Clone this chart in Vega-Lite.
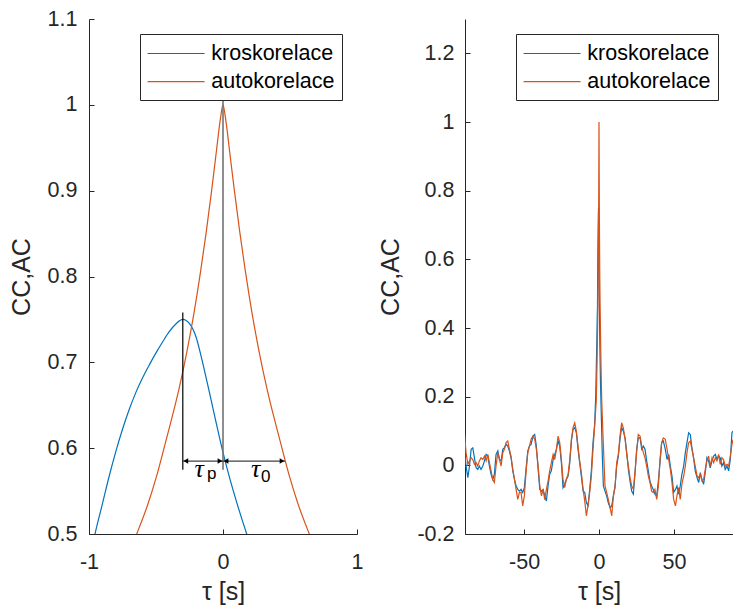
{
  "$schema": "https://vega.github.io/schema/vega-lite/v6.json",
  "autosize": {"type": "none"},
  "padding": {"left": 89, "top": 19, "right": 644, "bottom": 593},
  "background": "white",
  "spacing": 108,
  "bounds": "flush",
  "datasets": {
    "kros": [
      {"t": -89.8, "v": 0.047}, {"t": -88.7, "v": -0.002}, {"t": -87.5, "v": -0.036}, {"t": -86.4, "v": -0.002}, {"t": -85.3, "v": 0.047},
      {"t": -84.2, "v": 0.051}, {"t": -83.1, "v": 0.022}, {"t": -82.0, "v": -0.007}, {"t": -80.9, "v": -0.012}, {"t": -79.8, "v": -0.002},
      {"t": -78.7, "v": -0.012}, {"t": -77.5, "v": -0.002}, {"t": -76.4, "v": 0.013}, {"t": -75.3, "v": 0.032}, {"t": -74.2, "v": 0.027},
      {"t": -73.1, "v": -0.002}, {"t": -72.0, "v": -0.026}, {"t": -70.9, "v": -0.041}, {"t": -69.8, "v": -0.026}, {"t": -68.7, "v": 0.032},
      {"t": -67.5, "v": 0.042}, {"t": -66.4, "v": 0.017}, {"t": -65.3, "v": 0.013}, {"t": -64.2, "v": 0.047}, {"t": -63.1, "v": 0.051},
      {"t": -62.0, "v": 0.061}, {"t": -60.9, "v": 0.056}, {"t": -59.8, "v": 0.042}, {"t": -58.7, "v": 0.022}, {"t": -57.5, "v": -0.016},
      {"t": -56.4, "v": -0.041}, {"t": -55.3, "v": -0.06}, {"t": -54.2, "v": -0.07}, {"t": -53.1, "v": -0.075}, {"t": -52.0, "v": -0.07},
      {"t": -50.9, "v": -0.079}, {"t": -49.8, "v": -0.065}, {"t": -48.7, "v": -0.012}, {"t": -47.5, "v": 0.042}, {"t": -46.4, "v": 0.056},
      {"t": -45.3, "v": 0.061}, {"t": -44.0, "v": 0.085}, {"t": -42.9, "v": 0.09}, {"t": -41.8, "v": 0.056}, {"t": -40.6, "v": -0.012},
      {"t": -39.5, "v": -0.07}, {"t": -38.4, "v": -0.075}, {"t": -37.3, "v": -0.07}, {"t": -36.2, "v": -0.089}, {"t": -35.1, "v": -0.104},
      {"t": -34.0, "v": -0.06}, {"t": -32.9, "v": -0.026}, {"t": -31.8, "v": -0.016}, {"t": -30.6, "v": 0.017}, {"t": -29.5, "v": 0.032},
      {"t": -28.4, "v": 0.047}, {"t": -27.3, "v": 0.071}, {"t": -26.2, "v": 0.056}, {"t": -25.1, "v": 0.008}, {"t": -24.0, "v": -0.065},
      {"t": -22.9, "v": -0.055}, {"t": -21.8, "v": -0.041}, {"t": -20.6, "v": -0.031}, {"t": -19.5, "v": 0.008}, {"t": -18.4, "v": 0.071},
      {"t": -17.3, "v": 0.105}, {"t": -16.2, "v": 0.11}, {"t": -15.1, "v": 0.095}, {"t": -14.0, "v": 0.047}, {"t": -12.9, "v": 0.008},
      {"t": -11.8, "v": -0.031}, {"t": -10.6, "v": -0.075}, {"t": -9.5, "v": -0.079}, {"t": -8.4, "v": -0.109}, {"t": -7.3, "v": -0.118},
      {"t": -6.2, "v": -0.07}, {"t": -5.1, "v": -0.016}, {"t": -4.0, "v": 0.066}, {"t": -2.9, "v": 0.12}, {"t": -2.2, "v": 0.2},
      {"t": -1.5, "v": 0.35}, {"t": -1.2, "v": 0.425}, {"t": -1.0, "v": 0.465}, {"t": -0.955, "v": 0.5}, {"t": -0.9, "v": 0.535},
      {"t": -0.85, "v": 0.567}, {"t": -0.8, "v": 0.596}, {"t": -0.75, "v": 0.622}, {"t": -0.7, "v": 0.645}, {"t": -0.65, "v": 0.665},
      {"t": -0.6, "v": 0.682}, {"t": -0.55, "v": 0.697}, {"t": -0.5, "v": 0.711}, {"t": -0.45, "v": 0.724}, {"t": -0.4, "v": 0.736},
      {"t": -0.35, "v": 0.745}, {"t": -0.3, "v": 0.75}, {"t": -0.25, "v": 0.745}, {"t": -0.2, "v": 0.729}, {"t": -0.16, "v": 0.705},
      {"t": -0.1, "v": 0.664}, {"t": -0.05, "v": 0.629}, {"t": 0, "v": 0.595}, {"t": 0.05, "v": 0.565}, {"t": 0.1, "v": 0.538},
      {"t": 0.15, "v": 0.513}, {"t": 0.177, "v": 0.5}, {"t": 0.25, "v": 0.468},
      {"t": 0.6, "v": 0.34}, {"t": 1.0, "v": 0.24}, {"t": 1.6, "v": 0.134},
      {"t": 2.2, "v": 0.03}, {"t": 2.9, "v": -0.06}, {"t": 4.0, "v": -0.075}, {"t": 5.1, "v": -0.089}, {"t": 6.2, "v": -0.109},
      {"t": 7.4, "v": -0.123}, {"t": 8.5, "v": -0.118}, {"t": 9.6, "v": -0.089}, {"t": 10.7, "v": -0.06}, {"t": 11.8, "v": -0.002},
      {"t": 12.9, "v": 0.027}, {"t": 14.0, "v": 0.076}, {"t": 15.1, "v": 0.11}, {"t": 16.2, "v": 0.1}, {"t": 17.4, "v": 0.08},
      {"t": 18.5, "v": 0.037}, {"t": 19.6, "v": -0.012}, {"t": 20.7, "v": -0.046}, {"t": 21.8, "v": -0.075}, {"t": 22.9, "v": -0.084},
      {"t": 24.0, "v": -0.026}, {"t": 25.1, "v": 0.047}, {"t": 26.2, "v": 0.08}, {"t": 27.4, "v": 0.08}, {"t": 28.5, "v": 0.047},
      {"t": 29.6, "v": 0.056}, {"t": 30.7, "v": 0.047}, {"t": 31.8, "v": 0.013}, {"t": 32.9, "v": -0.016}, {"t": 34.0, "v": -0.046},
      {"t": 35.1, "v": -0.06}, {"t": 36.2, "v": -0.07}, {"t": 37.3, "v": -0.084}, {"t": 38.5, "v": -0.089}, {"t": 39.6, "v": -0.046},
      {"t": 40.7, "v": 0.008}, {"t": 41.8, "v": 0.066}, {"t": 42.9, "v": 0.071}, {"t": 44.2, "v": 0.047}, {"t": 45.4, "v": 0.017},
      {"t": 46.5, "v": 0.032}, {"t": 47.6, "v": -0.002}, {"t": 48.7, "v": -0.031}, {"t": 49.8, "v": -0.079}, {"t": 51.0, "v": -0.07},
      {"t": 52.0, "v": -0.06}, {"t": 53.1, "v": -0.084}, {"t": 54.2, "v": -0.06}, {"t": 55.3, "v": -0.026}, {"t": 56.5, "v": -0.002},
      {"t": 57.6, "v": 0.037}, {"t": 58.7, "v": 0.066}, {"t": 59.8, "v": 0.095}, {"t": 60.9, "v": 0.09}, {"t": 62.0, "v": 0.051},
      {"t": 63.1, "v": 0.022}, {"t": 64.2, "v": -0.016}, {"t": 65.4, "v": -0.036}, {"t": 66.5, "v": -0.05}, {"t": 67.6, "v": -0.021},
      {"t": 68.7, "v": -0.041}, {"t": 69.8, "v": -0.055}, {"t": 70.9, "v": -0.021}, {"t": 72.0, "v": 0.022}, {"t": 73.1, "v": 0.013},
      {"t": 74.2, "v": -0.007}, {"t": 75.4, "v": 0.013}, {"t": 76.5, "v": 0.027}, {"t": 77.6, "v": 0.032}, {"t": 78.7, "v": 0.017},
      {"t": 79.8, "v": 0.027}, {"t": 80.9, "v": 0.022}, {"t": 82.0, "v": -0.002}, {"t": 83.1, "v": 0.008}, {"t": 84.2, "v": -0.012},
      {"t": 85.4, "v": -0.002}, {"t": 86.5, "v": -0.016}, {"t": 87.6, "v": 0.017}, {"t": 88.7, "v": 0.095}, {"t": 89.4, "v": 0.1}
    ],
    "auto": [
      {"t": -89.8, "v": 0.095}, {"t": -88.7, "v": 0.037}, {"t": -87.5, "v": 0.003}, {"t": -86.4, "v": 0.013}, {"t": -85.3, "v": 0.022},
      {"t": -84.2, "v": 0.017}, {"t": -83.1, "v": 0.003}, {"t": -82.0, "v": 0.008}, {"t": -80.9, "v": -0.002}, {"t": -79.8, "v": 0.013},
      {"t": -78.7, "v": 0.022}, {"t": -77.5, "v": 0.017}, {"t": -76.4, "v": 0.027}, {"t": -75.3, "v": 0.013}, {"t": -74.2, "v": 0.032},
      {"t": -73.1, "v": 0.008}, {"t": -72.0, "v": -0.016}, {"t": -70.9, "v": -0.041}, {"t": -69.8, "v": -0.05}, {"t": -68.7, "v": -0.002},
      {"t": -67.5, "v": 0.037}, {"t": -66.4, "v": 0.017}, {"t": -65.3, "v": -0.002}, {"t": -64.2, "v": 0.037}, {"t": -63.1, "v": 0.047},
      {"t": -62.0, "v": 0.066}, {"t": -60.9, "v": 0.071}, {"t": -59.8, "v": 0.047}, {"t": -58.7, "v": 0.027}, {"t": -57.5, "v": -0.012},
      {"t": -56.4, "v": -0.041}, {"t": -55.3, "v": -0.07}, {"t": -54.2, "v": -0.099}, {"t": -53.1, "v": -0.079}, {"t": -52.0, "v": -0.079},
      {"t": -50.9, "v": -0.118}, {"t": -49.8, "v": -0.089}, {"t": -48.7, "v": -0.021}, {"t": -47.5, "v": 0.037}, {"t": -46.4, "v": 0.056},
      {"t": -45.3, "v": 0.076}, {"t": -44.2, "v": 0.085}, {"t": -42.9, "v": 0.076}, {"t": -41.8, "v": 0.047}, {"t": -40.6, "v": -0.002},
      {"t": -39.5, "v": -0.06}, {"t": -38.4, "v": -0.089}, {"t": -37.3, "v": -0.07}, {"t": -36.2, "v": -0.1}, {"t": -35.1, "v": -0.07},
      {"t": -34.0, "v": -0.046}, {"t": -32.9, "v": -0.016}, {"t": -31.8, "v": 0.008}, {"t": -30.6, "v": 0.032}, {"t": -29.5, "v": 0.017},
      {"t": -28.4, "v": 0.047}, {"t": -27.3, "v": 0.085}, {"t": -26.2, "v": 0.066}, {"t": -25.1, "v": 0.017}, {"t": -24.0, "v": -0.041},
      {"t": -22.9, "v": -0.065}, {"t": -21.8, "v": -0.041}, {"t": -20.6, "v": -0.026}, {"t": -19.5, "v": 0.017}, {"t": -18.4, "v": 0.076},
      {"t": -17.3, "v": 0.11}, {"t": -16.2, "v": 0.124}, {"t": -15.1, "v": 0.1}, {"t": -14.0, "v": 0.056}, {"t": -12.9, "v": 0.013},
      {"t": -11.8, "v": -0.021}, {"t": -10.6, "v": -0.07}, {"t": -9.5, "v": -0.105}, {"t": -8.4, "v": -0.147}, {"t": -7.3, "v": -0.115},
      {"t": -6.2, "v": -0.079}, {"t": -5.1, "v": -0.031}, {"t": -4.0, "v": 0.047}, {"t": -2.9, "v": 0.114}, {"t": -1.8, "v": 0.19},
      {"t": -1.3, "v": 0.3}, {"t": -1.0, "v": 0.385}, {"t": -0.7, "v": 0.478}, {"t": -0.644, "v": 0.5}, {"t": -0.56, "v": 0.535},
      {"t": -0.5, "v": 0.565}, {"t": -0.44, "v": 0.6}, {"t": -0.39, "v": 0.63}, {"t": -0.33, "v": 0.668}, {"t": -0.27, "v": 0.712},
      {"t": -0.217, "v": 0.757}, {"t": -0.168, "v": 0.805}, {"t": -0.125, "v": 0.852}, {"t": -0.085, "v": 0.9}, {"t": -0.05, "v": 0.945},
      {"t": -0.02, "v": 0.983}, {"t": 0, "v": 1.0}, {"t": 0.02, "v": 0.983}, {"t": 0.05, "v": 0.945}, {"t": 0.085, "v": 0.9},
      {"t": 0.125, "v": 0.852}, {"t": 0.168, "v": 0.805}, {"t": 0.217, "v": 0.757}, {"t": 0.27, "v": 0.712}, {"t": 0.33, "v": 0.668},
      {"t": 0.39, "v": 0.63}, {"t": 0.44, "v": 0.6}, {"t": 0.5, "v": 0.565}, {"t": 0.56, "v": 0.535}, {"t": 0.644, "v": 0.5},
      {"t": 0.7, "v": 0.478}, {"t": 1.0, "v": 0.385}, {"t": 1.3, "v": 0.3}, {"t": 1.8, "v": 0.19},
      {"t": 2.9, "v": 0.06}, {"t": 4.0, "v": -0.06}, {"t": 5.1, "v": -0.079}, {"t": 6.2, "v": -0.099}, {"t": 7.4, "v": -0.123},
      {"t": 8.5, "v": -0.147}, {"t": 9.6, "v": -0.089}, {"t": 10.7, "v": -0.065}, {"t": 11.8, "v": 0.008}, {"t": 12.9, "v": 0.032},
      {"t": 14.0, "v": 0.085}, {"t": 15.1, "v": 0.124}, {"t": 16.2, "v": 0.11}, {"t": 17.4, "v": 0.076}, {"t": 18.5, "v": 0.032},
      {"t": 19.6, "v": -0.002}, {"t": 20.7, "v": -0.036}, {"t": 21.8, "v": -0.06}, {"t": 22.9, "v": -0.07}, {"t": 24.0, "v": -0.021},
      {"t": 25.1, "v": 0.037}, {"t": 26.2, "v": 0.09}, {"t": 27.4, "v": 0.085}, {"t": 28.5, "v": 0.056}, {"t": 29.6, "v": 0.037},
      {"t": 30.7, "v": 0.022}, {"t": 31.8, "v": -0.002}, {"t": 32.9, "v": -0.031}, {"t": 34.0, "v": -0.05}, {"t": 35.1, "v": -0.075},
      {"t": 36.2, "v": -0.079}, {"t": 37.3, "v": -0.07}, {"t": 38.5, "v": -0.099}, {"t": 39.6, "v": -0.06}, {"t": 40.7, "v": 0.017},
      {"t": 41.8, "v": 0.066}, {"t": 42.9, "v": 0.08}, {"t": 44.2, "v": 0.076}, {"t": 45.4, "v": 0.047}, {"t": 46.5, "v": 0.017},
      {"t": 47.6, "v": -0.012}, {"t": 48.7, "v": -0.05}, {"t": 49.8, "v": -0.099}, {"t": 51.0, "v": -0.118}, {"t": 52.0, "v": -0.089},
      {"t": 53.1, "v": -0.065}, {"t": 54.2, "v": -0.099}, {"t": 55.3, "v": -0.055}, {"t": 56.5, "v": -0.031}, {"t": 57.6, "v": -0.002},
      {"t": 58.7, "v": 0.037}, {"t": 59.8, "v": 0.066}, {"t": 60.9, "v": 0.071}, {"t": 62.0, "v": 0.047}, {"t": 63.1, "v": 0.022},
      {"t": 64.2, "v": -0.002}, {"t": 65.4, "v": -0.031}, {"t": 66.5, "v": -0.036}, {"t": 67.6, "v": -0.026}, {"t": 68.7, "v": -0.046},
      {"t": 69.8, "v": -0.041}, {"t": 70.9, "v": -0.012}, {"t": 72.0, "v": 0.013}, {"t": 73.1, "v": 0.027}, {"t": 74.2, "v": -0.002},
      {"t": 75.4, "v": 0.022}, {"t": 76.5, "v": 0.008}, {"t": 77.6, "v": 0.022}, {"t": 78.7, "v": 0.013}, {"t": 79.8, "v": 0.032},
      {"t": 80.9, "v": 0.003}, {"t": 82.0, "v": 0.022}, {"t": 83.1, "v": 0.017}, {"t": 84.2, "v": -0.002}, {"t": 85.4, "v": 0.003},
      {"t": 86.5, "v": -0.002}, {"t": 87.6, "v": 0.027}, {"t": 88.7, "v": 0.061}, {"t": 89.4, "v": 0.075}
    ],
    "marker_peak": [{"t": -0.3, "v": 0.575, "v2": 0.758}],
    "marker_zero": [{"t": 0, "v": 0.575, "v2": 1.005}],
    "spans": [{"t": -0.3, "t2": 0, "v": 0.585}, {"t": 0, "t2": 0.463, "v": 0.585}],
    "heads_left": [{"t": -0.3, "v": 0.585}, {"t": 0, "v": 0.585}],
    "heads_right": [{"t": 0, "v": 0.585}, {"t": 0.463, "v": 0.585}],
    "tau": [{"t": -0.178, "v": 0.5665}, {"t": 0.243, "v": 0.5665}],
    "subs": [{"t": -0.085, "v": 0.5635, "s": "p"}, {"t": 0.318, "v": 0.561, "s": "0"}]
  },
  "config": {
    "font": "Liberation Sans",
    "view": {"stroke": null},
    "axis": {
      "grid": false,
      "domainColor": "#262626",
      "domainWidth": 1,
      "tickColor": "#262626",
      "tickSize": -5,
      "labelColor": "#262626",
      "labelFont": "Liberation Sans",
      "labelFontSize": 21.5,
      "labelFlush": false,
      "labelOverlap": false,
      "titleColor": "#262626",
      "titleFont": "Liberation Sans",
      "titleFontSize": 25,
      "titleFontWeight": "normal"
    },
    "line": {"strokeWidth": 1.2}
  },
  "resolve": {"scale": {"color": "independent"}, "legend": {"color": "independent"}},
  "hconcat": [
    {
      "width": 268,
      "height": 515,
      "encoding": {
        "x": {
          "field": "t", "type": "quantitative",
          "scale": {"domain": [-1, 1], "nice": false},
          "axis": {"title": "τ [s]", "values": [-1, 0, 1], "format": "~g", "labelExpr": "replace(datum.label, '−', '-')", "labelPadding": 22, "titlePadding": 7}
        },
        "y": {
          "field": "v", "type": "quantitative",
          "scale": {"domain": [0.5, 1.1], "nice": false, "zero": false},
          "axis": {"title": "CC,AC", "values": [0.5, 0.6, 0.7, 0.8, 0.9, 1, 1.1], "format": "~g", "labelPadding": 17, "titlePadding": 13}
        }
      },
      "layer": [
        {
          "data": {"name": "kros"},
          "mark": {"type": "line", "clip": true, "interpolate": "monotone"},
          "encoding": {
            "color": {
              "datum": "kroskorelace",
              "scale": {"domain": ["kroskorelace", "autokorelace"], "range": ["#0072BD", "#D95319"]},
              "legend": {"title": null, "orient": "none", "legendX": 51, "legendY": 15, "fillColor": "white", "strokeColor": "#262626", "padding": 7, "symbolType": "M-2.5,0H2.5", "symbolSize": 520, "symbolOffset": 16.6, "symbolStrokeWidth": 1.4, "labelFont": "Liberation Sans", "labelFontSize": 21.5, "labelColor": "#000000", "labelOffset": 22.7, "rowPadding": 5.2}
            }
          }
        },
        {
          "data": {"name": "auto"},
          "mark": {"type": "line", "clip": true, "interpolate": "monotone"},
          "encoding": {"color": {"datum": "autokorelace"}}
        },
        {
          "data": {"name": "marker_zero"},
          "mark": {"type": "rule", "color": "#737373", "strokeWidth": 1.6},
          "encoding": {"y2": {"field": "v2"}}
        },
        {
          "data": {"name": "marker_peak"},
          "mark": {"type": "rule", "color": "#000000", "strokeWidth": 1.2},
          "encoding": {"y2": {"field": "v2"}}
        },
        {
          "data": {"name": "spans"},
          "mark": {"type": "rule", "color": "#404040", "strokeWidth": 1.2},
          "encoding": {"x2": {"field": "t2"}}
        },
        {
          "data": {"name": "heads_left"},
          "mark": {"type": "point", "shape": "triangle-left", "filled": true, "color": "#000000", "size": 30, "opacity": 1, "xOffset": 3},
          "encoding": {}
        },
        {
          "data": {"name": "heads_right"},
          "mark": {"type": "point", "shape": "triangle-right", "filled": true, "color": "#000000", "size": 30, "opacity": 1, "xOffset": -3},
          "encoding": {}
        },
        {
          "data": {"name": "tau"},
          "mark": {"type": "text", "text": "τ", "font": "Liberation Serif", "fontStyle": "italic", "fontSize": 26, "baseline": "alphabetic", "align": "center", "color": "#000000"},
          "encoding": {}
        },
        {
          "data": {"name": "subs"},
          "mark": {"type": "text", "font": "Liberation Sans", "fontSize": 17, "baseline": "alphabetic", "align": "center", "color": "#000000"},
          "encoding": {"text": {"field": "s"}}
        }
      ]
    },
    {
      "width": 268,
      "height": 515,
      "encoding": {
        "x": {
          "field": "t", "type": "quantitative",
          "scale": {"domain": [-89.4, 89.4], "nice": false},
          "axis": {"title": "τ [s]", "values": [-50, 0, 50], "format": "d", "labelExpr": "replace(datum.label, '−', '-')", "labelPadding": 22, "titlePadding": 7}
        },
        "y": {
          "field": "v", "type": "quantitative",
          "scale": {"domain": [-0.2, 1.3], "nice": false, "zero": false},
          "axis": {"title": "CC,AC", "values": [-0.2, 0, 0.2, 0.4, 0.6, 0.8, 1, 1.2], "format": "~g", "labelExpr": "replace(datum.label, '−', '-')", "labelPadding": 16, "titlePadding": 13}
        }
      },
      "layer": [
        {
          "data": {"name": "kros"},
          "mark": {"type": "line", "clip": true},
          "encoding": {
            "color": {
              "datum": "kroskorelace",
              "scale": {"domain": ["kroskorelace", "autokorelace"], "range": ["#0072BD", "#D95319"]},
              "legend": {"title": null, "orient": "none", "legendX": 51, "legendY": 15, "fillColor": "white", "strokeColor": "#262626", "padding": 7, "symbolType": "M-2.5,0H2.5", "symbolSize": 520, "symbolOffset": 16.6, "symbolStrokeWidth": 1.4, "labelFont": "Liberation Sans", "labelFontSize": 21.5, "labelColor": "#000000", "labelOffset": 22.7, "rowPadding": 5.2}
            }
          }
        },
        {
          "data": {"name": "auto"},
          "mark": {"type": "line", "clip": true},
          "encoding": {"color": {"datum": "autokorelace"}}
        }
      ]
    }
  ]
}
